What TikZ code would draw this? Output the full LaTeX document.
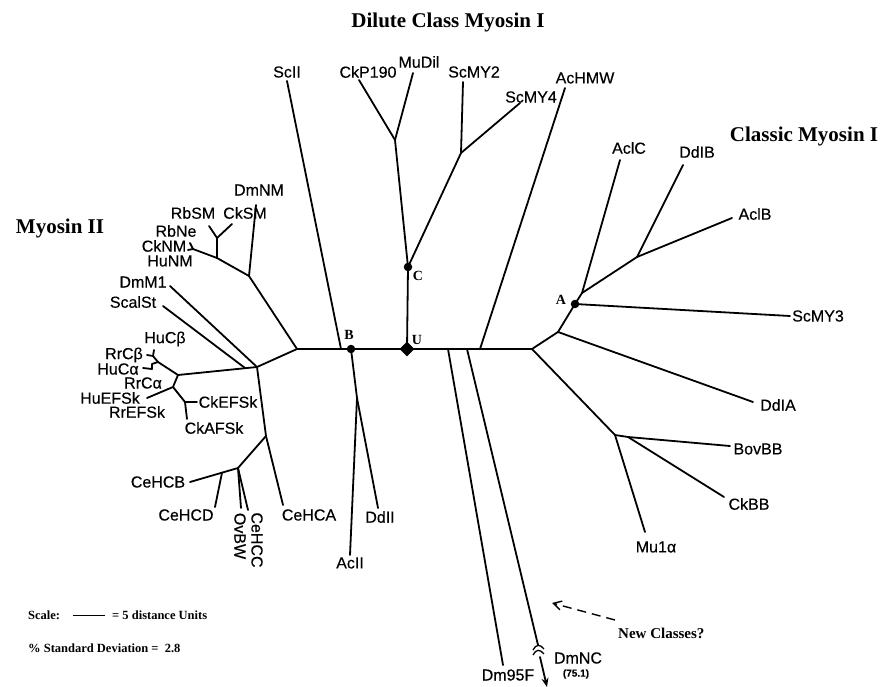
\documentclass[tikz,border=0pt]{standalone}
\usepackage{fontspec}
\setmainfont{Liberation Serif}
\setsansfont{Liberation Sans}
\newfontfamily\labfont[FakeBold=0.35]{Liberation Sans}
\usetikzlibrary{arrows.meta,shapes.geometric}
\begin{document}
\begin{tikzpicture}[x=1pt,y=-1pt,
  br/.style={line width=1.8pt, line join=round, line cap=round},
  lbl/.style={font=\labfont\fontsize{16}{18}\selectfont, inner sep=0pt},
  rlbl/.style={font=\labfont\fontsize{16}{18}\selectfont, inner sep=0pt, rotate=-90},
  small/.style={font=\labfont\bfseries\fontsize{10}{12}\selectfont, inner sep=0pt},
  ttl/.style={font=\bfseries\fontsize{21}{24}\selectfont, inner sep=0pt},
  ltr/.style={font=\bfseries\fontsize{14}{16}\selectfont, inner sep=0pt},
  note/.style={font=\bfseries\fontsize{12.5}{14}\selectfont, inner sep=0pt, anchor=west},
  dotn/.style={circle, fill=black, inner sep=0pt, minimum size=8.5pt},
  dia/.style={diamond, fill=black, inner sep=0pt, minimum size=15pt}]
\useasboundingbox (0,0) rectangle (891,687);

% ---------- coordinates ----------
% backbone
\coordinate (L1) at (297,349);
\coordinate (B) at (351,349);
\coordinate (U) at (407,349);
\coordinate (R1) at (532,349);
% ScII, AcII, DdII
\coordinate (ScIIe) at (287,81);
\coordinate (ScIIj) at (341,349);
\coordinate (AD) at (357,398);
\coordinate (AcIIe) at (350,555);
\coordinate (DdIIe) at (378,508);
% dilute class
\coordinate (C) at (408,267);
\coordinate (Dk) at (395,140);
\coordinate (CkPe) at (359,80);
\coordinate (MuDe) at (413,73);
\coordinate (Sk) at (461,153);
\coordinate (ScMYe2) at (463,82);
\coordinate (ScMYe4) at (520,103);
\coordinate (AcHe) at (565,88);
\coordinate (AcHj) at (480,349);
% new classes
\coordinate (D1j) at (448,349);
\coordinate (D1e) at (503,665);
\coordinate (D2j) at (467,349);
\coordinate (D2e) at (538,645);
\coordinate (D2b) at (540,657);
\coordinate (D2a) at (547,687);
\coordinate (BrA1) at (533,650);
\coordinate (BrA3) at (544,649);
\coordinate (BrB1) at (533,655);
\coordinate (BrB3) at (544,654);
\coordinate (NCt) at (615,620);
\coordinate (NCh) at (552,603);
% classic myosin I
\coordinate (R2) at (558,332);
\coordinate (A) at (575,304);
\coordinate (A2) at (582,293);
\coordinate (AclCe) at (620,160);
\coordinate (Bn) at (637,257);
\coordinate (DdIBe) at (683,165);
\coordinate (AclBe) at (732,218);
\coordinate (ScMY3e) at (790,316);
\coordinate (DdIAe) at (753,402);
\coordinate (R3) at (615,435);
\coordinate (R4) at (628,437);
\coordinate (BovBBe) at (730,446);
\coordinate (CkBBe) at (724,497);
\coordinate (Mu1e) at (645,532);
% myosin II
\coordinate (M1) at (249,276);
\coordinate (DmNMe) at (256,205);
\coordinate (M2) at (217,258);
\coordinate (M3) at (217,238);
\coordinate (RbSMe) at (209,226);
\coordinate (CkSMe) at (232,224);
\coordinate (M4) at (193,249);
\coordinate (RbNee) at (190,243);
\coordinate (CkNMe) at (188,250);
\coordinate (L2) at (257,367);
\coordinate (DmM1e) at (170,286);
\coordinate (ScalSte) at (163,306);
\coordinate (ScalStj) at (245,368);
\coordinate (HC) at (178,375);
\coordinate (P1) at (158,362);
\coordinate (P2) at (153,356);
\coordinate (RrCbe) at (147,355);
\coordinate (HuCbe) at (154,350);
\coordinate (P3) at (152,364);
\coordinate (P3b) at (152,369);
\coordinate (HuCae) at (143,368);
\coordinate (E1) at (173,387);
\coordinate (EFe) at (147,398);
\coordinate (E2) at (185,402);
\coordinate (CkEFe) at (197,402);
\coordinate (CkAFe) at (187,419);
\coordinate (L3) at (266,436);
\coordinate (CeHCAe) at (283,505);
\coordinate (L4) at (238,468);
\coordinate (CeHCBe) at (190,482);
\coordinate (L5) at (222,472.7);
\coordinate (CeHCDe) at (215,507);
\coordinate (OvBWe) at (241,508);
\coordinate (CeHCCe) at (248,510);
% scale bar
\coordinate (SBa) at (73,615);
\coordinate (SBb) at (105,615);

% ---------- branches ----------
\draw[br] (L1) -- (B) -- (U) -- (R1);
\draw[br] (ScIIe) -- (ScIIj);
\draw[br] (B) -- (AD) -- (AcIIe);
\draw[br] (AD) -- (DdIIe);
\draw[br] (U) -- (C) -- (Dk) -- (CkPe);
\draw[br] (Dk) -- (MuDe);
\draw[br] (C) -- (Sk) -- (ScMYe2);
\draw[br] (Sk) -- (ScMYe4);
\draw[br] (AcHe) -- (AcHj);
\draw[br] (D1j) -- (D1e);
\draw[br] (D2j) -- (D2e);
\draw[line width=1.3pt] (BrA1) .. controls (536,644) and (540,644) .. (BrA3);
\draw[line width=1.3pt] (BrB1) .. controls (536,649) and (540,649) .. (BrB3);
\draw[br, -{Stealth[length=9pt,width=7pt]}] (D2b) -- (D2a);
\draw[line width=1.4pt, dash pattern=on 9pt off 6pt, -{Straight Barb[length=8pt,width=9pt]}] (NCt) -- (NCh);
% classic
\draw[br] (R1) -- (R2) -- (A) -- (A2) -- (AclCe);
\draw[br] (A2) -- (Bn) -- (DdIBe);
\draw[br] (Bn) -- (AclBe);
\draw[br] (A) -- (ScMY3e);
\draw[br] (R2) -- (DdIAe);
\draw[br] (R1) -- (R3) -- (R4) -- (BovBBe);
\draw[br] (R4) -- (CkBBe);
\draw[br] (R3) -- (Mu1e);
% myosin II
\draw[br] (L1) -- (M1) -- (DmNMe);
\draw[br] (M1) -- (M2) -- (M3) -- (RbSMe);
\draw[br] (M3) -- (CkSMe);
\draw[br] (M2) -- (M4) -- (RbNee);
\draw[br] (M4) -- (CkNMe);
\draw[br] (L1) -- (L2) -- (DmM1e);
\draw[br] (ScalSte) -- (ScalStj);
\draw[br] (L2) -- (HC) -- (P1) -- (P2) -- (RrCbe);
\draw[br] (P2) -- (HuCbe);
\draw[br] (P1) -- (P3) -- (P3b);
\draw[br] (P3b) -- (HuCae);
\draw[br] (HC) -- (E1) -- (EFe);
\draw[br] (E1) -- (E2) -- (CkEFe);
\draw[br] (E2) -- (CkAFe);
\draw[br] (L2) -- (L3) -- (CeHCAe);
\draw[br] (L3) -- (L4) -- (CeHCBe);
\draw[br] (L5) -- (CeHCDe);
\draw[br] (L4) -- (OvBWe);
\draw[br] (L4) -- (CeHCCe);

% ---------- marked nodes ----------
\node[dotn] (Bdot) at (B) {};
\node[dotn] (Cdot) at (C) {};
\node[dotn] (Adot) at (A) {};
\node[dia] (Udia) at (U) {};
\node[ltr] (Bl) at (349,335) {B};
\node[ltr] (Ul) at (417,340) {U};
\node[ltr] (Cl) at (418,276) {C};
\node[ltr] (Al) at (561,300) {A};

% ---------- titles ----------
\node[ttl] (t1) at (448,22) {Dilute Class Myosin I};
\node[ttl] (t2) at (804,136) {Classic Myosin I};
\node[ttl] (t3) at (60,228) {Myosin II};

% ---------- leaf labels ----------
\node[lbl] (nScII) at (287,72) {ScII};
\node[lbl] (nCkP) at (368,72) {CkP190};
\node[lbl] (nMuD) at (419,62) {MuDil};
\node[lbl] (nScMY2) at (474,72) {ScMY2};
\node[lbl] (nScMY4) at (531,97) {ScMY4};
\node[lbl] (nAcH) at (585,78) {AcHMW};
\node[lbl] (nAclC) at (629,148) {AclC};
\node[lbl] (nDdIB) at (697,152) {DdIB};
\node[lbl] (nAclB) at (755,214) {AclB};
\node[lbl] (nScMY3) at (818,316) {ScMY3};
\node[lbl] (nDdIA) at (778,405) {DdIA};
\node[lbl] (nBovBB) at (758,449) {BovBB};
\node[lbl] (nCkBB) at (749,504) {CkBB};
\node[lbl] (nMu1) at (656,547) {Mu1α};
\node[lbl] (nAcII) at (350,563) {AcII};
\node[lbl] (nDdII) at (380,517) {DdII};
\node[lbl] (nDm95F) at (508,675) {Dm95F};
\node[lbl] (nDmNC) at (578,658) {DmNC};
\node[small] (n751) at (576,674) {(75.1)};
\node[lbl] (nDmNM) at (259,190) {DmNM};
\node[lbl] (nRbSM) at (193,213) {RbSM};
\node[lbl] (nCkSM) at (245,213) {CkSM};
\node[lbl] (nRbNe) at (176,231) {RbNe};
\node[lbl] (nCkNM) at (164,246) {CkNM};
\node[lbl] (nHuNM) at (170,261) {HuNM};
\node[lbl] (nDmM1) at (143,282) {DmM1};
\node[lbl] (nScalSt) at (133,302) {ScalSt};
\node[lbl] (nHuCb) at (165,339) {HuCβ};
\node[lbl] (nRrCb) at (124,355) {RrCβ};
\node[lbl] (nHuCa) at (118,369) {HuCα};
\node[lbl] (nRrCa) at (143,383) {RrCα};
\node[lbl] (nHuEF) at (110,398) {HuEFSk};
\node[lbl] (nRrEF) at (137,412) {RrEFSk};
\node[lbl] (nCkEF) at (228,402) {CkEFSk};
\node[lbl] (nCkAF) at (214,428) {CkAFSk};
\node[lbl] (nCeHCB) at (158,482) {CeHCB};
\node[lbl] (nCeHCD) at (186,515) {CeHCD};
\node[lbl] (nCeHCA) at (309,515) {CeHCA};
\node[rlbl] (nOvBW) at (240,536) {OvBW};
\node[rlbl] (nCeHCC) at (257,540) {CeHCC};

% ---------- notes ----------
\node[font=\bfseries\fontsize{15}{17}\selectfont, inner sep=0pt, anchor=west] (nNew) at (618,633) {New Classes?};
\node[note] (sc1) at (28,615) {Scale:};
\draw[line width=1pt] (SBa) -- (SBb);
\node[note] (sc2) at (112,615) {= 5 distance Units};
\node[note] (sd) at (28,648) {\% Standard Deviation =\ \ 2.8};
\end{tikzpicture}
\end{document}
